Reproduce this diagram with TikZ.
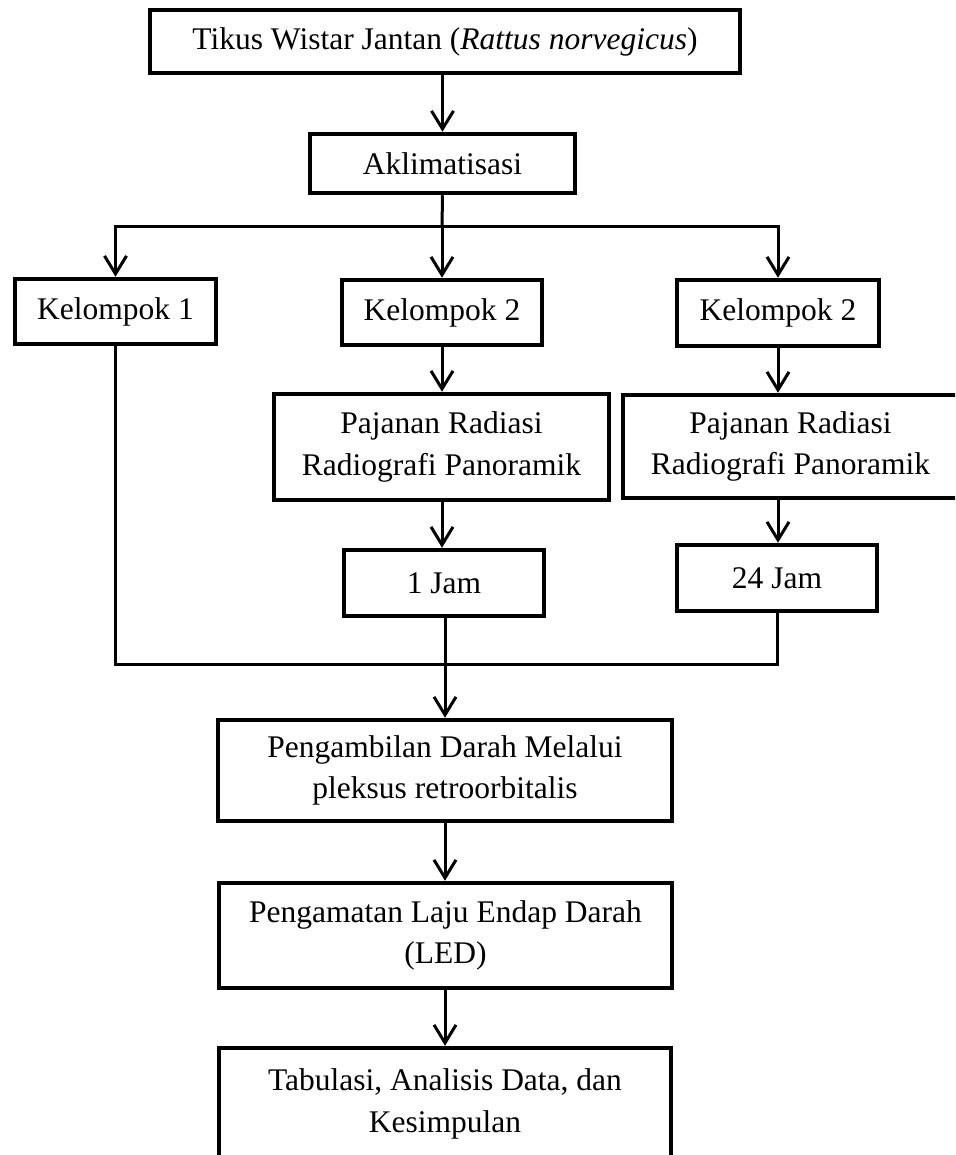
\documentclass[tikz,border=0pt]{standalone}
\usepackage{fontspec}
\setmainfont{Liberation Serif}
\usetikzlibrary{arrows.meta}
\tikzset{
  box/.style={draw, line width=4.5pt, rectangle, inner sep=0pt, align=center,
    font=\fontsize{31.5}{41.5}\selectfont},
  conn/.style={line width=3pt},
  arr/.style={line width=3pt, -{Straight Barb[length=18pt,width=22pt]}},
}
\begin{document}
\begin{tikzpicture}[x=1pt,y=-1pt]
\useasboundingbox (0,0) rectangle (955,1155);
\clip (0,0) rectangle (955,1155);
\node[box, minimum width=590pt, minimum height=63pt] (top) at (445,41.5) {Tikus Wistar Jantan (\textit{Rattus norvegicus})};
\node[box, minimum width=265pt, minimum height=59pt] (akl) at (442.5,163.5) {Aklimatisasi};
\node[box, minimum width=201pt, minimum height=65pt] (k1) at (115.5,311.5) {Kelompok 1};
\node[box, minimum width=200pt, minimum height=65pt] (k2) at (442,312.5) {Kelompok 2};
\node[box, minimum width=202pt, minimum height=66pt] (k3) at (778,313) {Kelompok 2};
\node[box, minimum width=335pt, minimum height=106pt] (p2) at (441.5,447) {Pajanan Radiasi\\Radiografi Panoramik};
\node[box, minimum width=335pt, minimum height=103pt] (p3) at (790.5,446.5) {Pajanan Radiasi\\Radiografi Panoramik};
\node[box, minimum width=200pt, minimum height=66pt] (j1) at (444,583) {1 Jam};
\node[box, minimum width=200pt, minimum height=66pt] (j24) at (777,578) {24 Jam};
\node[box, minimum width=454pt, minimum height=101pt] (peng) at (445,770.5) {Pengambilan Darah Melalui\\pleksus retroorbitalis};
\node[box, minimum width=453pt, minimum height=105pt] (led) at (445.5,935.5) {Pengamatan Laju Endap Darah\\(LED)};
\node[box, minimum width=452pt, minimum height=112pt] (tab) at (445,1104) {Tabulasi, Analisis Data, dan\\Kesimpulan};
\coordinate (br) at (442,227);
\coordinate (mg) at (445,664);
\draw[arr] (akl.north |- top.south) -- (akl.north);
\draw[conn] (akl.south) -- (br);
\draw[arr] (br) -| (k1.north);
\draw[arr] (br) -- (k2.north);
\draw[arr] (br) -| (k3.north);
\draw[arr] (k2.south) -- (p2.north -| k2.south);
\draw[arr] (k3.south) -- (p3.north -| k3.south);
\draw[arr] (p2.south -| k2.south) -- (j1.north -| k2.south);
\draw[arr] (p3.south -| k3.south) -- (j24.north -| k3.south);
\draw[conn] (k1.south) |- (mg);
\draw[conn] (j24.south) |- (mg);
\draw[arr] (j1.south -| mg) -- (peng.north -| mg);
\draw[arr] (peng.south -| mg) -- (led.north -| mg);
\draw[arr] (led.south -| mg) -- (tab.north -| mg);
\end{tikzpicture}
\end{document}
